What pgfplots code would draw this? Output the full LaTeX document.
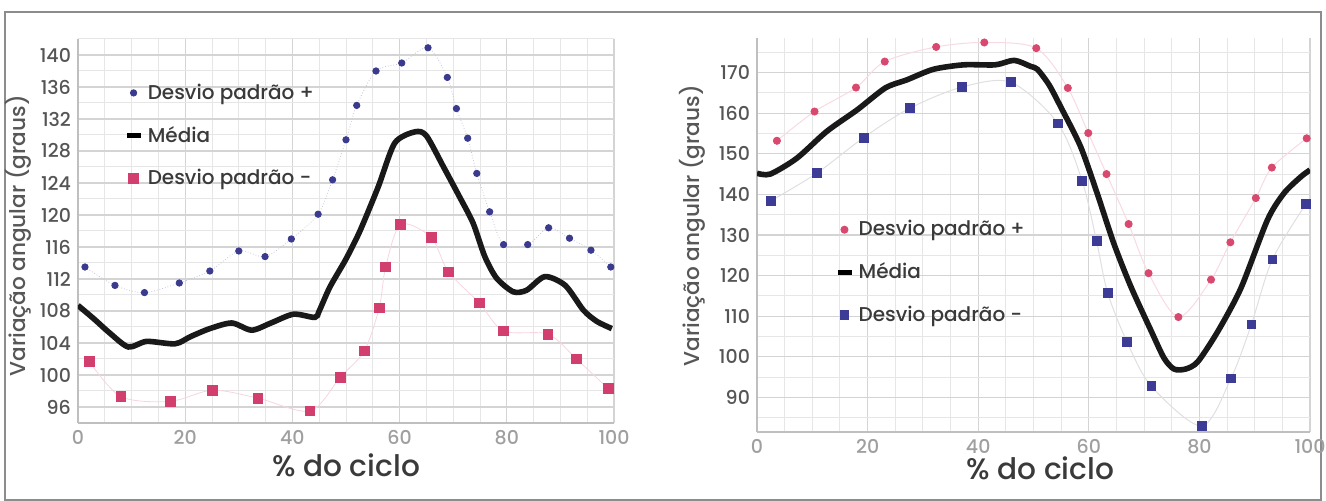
\documentclass[border=0pt]{standalone}
\usepackage{fontspec}
\setmainfont{Poppins}[UprightFont={* Medium}]
\usepackage{pgfplots}
\usepackage{pgfplotstable}
\pgfplotsset{compat=1.18}
\definecolor{dotblue}{HTML}{3A3A8E}
\definecolor{sqpink}{HTML}{D23F6E}
\definecolor{dotpink}{HTML}{D9486E}
\definecolor{sqblue}{HTML}{3C3C96}
\definecolor{txt}{HTML}{3A3A3A}
\definecolor{ticktxt}{HTML}{555555}
\definecolor{gridc}{HTML}{D4D4D4}
\definecolor{gridm}{HTML}{E6E6E6}

% Left panel data
\pgfplotstableread{
x y
1.3 113.5
6.9 111.2
12.4 110.3
18.9 111.5
24.6 113.0
30.0 115.5
34.9 114.8
39.8 117.0
44.8 120.1
47.5 124.4
50.0 129.4
52.0 133.7
55.6 138.0
60.4 139.0
65.3 140.9
68.9 137.2
70.6 133.3
72.7 129.6
74.4 125.2
76.8 120.4
79.4 116.3
83.9 116.3
87.8 118.4
91.7 117.1
95.7 115.6
99.4 113.5
}\Lplus
\pgfplotstableread{
x y
2.1 101.7
8.0 97.3
17.2 96.7
25.1 98.1
33.6 97.1
43.3 95.5
48.9 99.7
53.4 103.0
56.2 108.4
57.4 113.5
60.2 118.8
65.9 117.2
69.1 112.9
74.9 109.0
79.4 105.5
87.7 105.1
93.0 102.0
98.9 98.3
}\Lminus
\pgfplotstableread{
x y
0 108.7
3 107.0
6 105.2
9.4 103.5
12.8 104.2
18.1 103.9
21 104.8
24.6 105.8
28.7 106.5
32.4 105.6
36 106.5
40.2 107.6
44.2 107.2
45 108.0
47 111.0
50 114.5
52.6 118.0
56 123.5
59.1 129.0
62.9 130.4
65 129.9
68.2 126.0
71 122.5
73.7 119.0
75.9 114.8
78.1 112.1
81.2 110.4
83.7 110.6
87.1 112.3
90.9 111.2
94.3 108.1
96.8 106.7
99.6 105.8
}\Lmean

% Right panel data
\pgfplotstableread{
x y
3.6 153.2
10.4 160.4
17.9 166.3
23.1 172.7
32.4 176.3
41.1 177.4
50.5 176.0
56.2 166.2
59.9 155.1
63.2 145.0
67.2 132.7
70.8 120.6
76.2 109.8
82.1 119.0
85.6 128.2
90.2 139.1
93.1 146.6
99.4 153.8
}\Rplus
\pgfplotstableread{
x y
2.5 138.4
10.8 145.2
19.3 154.0
27.6 161.2
37.0 166.4
45.9 167.6
54.4 157.5
58.8 143.3
61.4 128.5
63.4 115.8
66.9 103.7
71.3 92.8
80.4 83.0
85.7 94.7
89.4 108.0
93.2 124.0
99.3 137.7
}\Rminus
\pgfplotstableread{
x y
0 145.2
2.4 145.0
7.2 148.9
12.6 155.5
18.1 160.8
23.2 166.2
27.1 168.2
31.9 170.8
37.4 171.9
43.1 171.9
46.5 173.0
49.5 171.5
50.7 170.8
52.8 167.0
54.9 161.6
58.5 151.8
61.5 140.3
64.5 128.0
67.6 117.3
71.2 106.6
73.6 99.7
75.4 97.0
77.5 97.0
79.7 98.8
83.3 106.2
87.5 116.9
92.3 133.7
95.3 140.3
98.4 144.4
100 146.0
}\Rmean

\pgfplotsset{
  mystyle/.style={
    scale only axis,
    xmin=0, xmax=100,
    xtick={0,20,...,100},
    minor xtick={0,5,...,100},
    grid=both,
    major grid style={gridc, line width=0.6pt},
    minor grid style={gridm, line width=0.5pt},
    axis line style={gray!50, line width=0.6pt},
    axis x line*=bottom, axis y line*=left,
    tick style={draw=none},
    /pgf/number format/assume math mode=true,
    ticklabel style={font=\fontsize{9.5}{11}\selectfont, text=ticktxt},
    xticklabel style={text=gray!75},
    xlabel={\% do ciclo},
    ylabel={Variação angular (graus)},
    xlabel style={font=\fontsize{14.8}{17}\selectfont, text=txt, anchor=center},
    ylabel style={font=\fontsize{10.8}{13}\selectfont, text=txt!85, anchor=center},
    legend cell align=left,
    legend style={draw=none, fill=none, font=\fontsize{10}{12}\selectfont, text=txt,
      row sep=8pt, anchor=north west, inner sep=0pt},
  },
  markleg/.style={legend image code/.code={\draw[##1] plot coordinates {(0.12cm,0cm)};}},
  lineleg/.style={legend image code/.code={\draw[black,line width=2.8pt] (0cm,0cm) -- (0.25cm,0cm);}},
}

\begin{document}
\begin{tikzpicture}
\path[use as bounding box] (0,0) rectangle (663pt,250.5pt);
\draw[gray!90, line width=0.8pt] (2.5pt,0.6pt) rectangle (660.5pt,244.5pt);

\begin{axis}[mystyle,
  at={(39pt,39pt)}, anchor=south west,
  width=268pt, height=192pt,
  ymin=94, ymax=142,
  ytick={96,100,...,140},
  minor ytick={94,98,...,142},
  xlabel style={at={(axis description cs:0.5,-0.109)}},
  ylabel style={at={(axis description cs:-0.112,0.487)}},
  legend style={at={(axis description cs:0.085,0.895)}},
]
\addplot[smooth, densely dotted, color=dotblue!30, line width=0.4pt, forget plot] table {\Lplus};
\addplot[smooth, color=sqpink!22, line width=0.4pt, forget plot] table {\Lminus};
\addplot[only marks, mark=*, mark size=1.6pt, color=dotblue, markleg] table {\Lplus};
\addlegendentry{Desvio padrão +}
\addplot[smooth, tension=0.45, black!90, line width=2.8pt, lineleg] table {\Lmean};
\addlegendentry{Média}
\addplot[only marks, mark=square*, mark size=2.4pt, color=sqpink, markleg] table {\Lminus};
\addlegendentry{Desvio padrão -}
\end{axis}

\begin{axis}[mystyle,
  at={(378.5pt,34.5pt)}, anchor=south west,
  width=276.5pt, height=197pt,
  ymin=81.5, ymax=178.5,
  ytick={90,100,...,170},
  minor ytick={85,95,...,175},
  xlabel style={at={(axis description cs:0.512,-0.091)}},
  ylabel style={at={(axis description cs:-0.1175,0.523)}},
  legend style={at={(axis description cs:0.14,0.548)}},
]
\addplot[smooth, color=dotpink!20, line width=0.5pt, forget plot] table {\Rplus};
\addplot[smooth, color=gray!25, line width=0.5pt, forget plot] table {\Rminus};
\addplot[only marks, mark=*, mark size=1.8pt, color=dotpink, markleg] table {\Rplus};
\addlegendentry{Desvio padrão +}
\addplot[smooth, tension=0.45, black!90, line width=2.8pt, lineleg] table {\Rmean};
\addlegendentry{Média}
\addplot[only marks, mark=square*, mark size=2.2pt, color=sqblue, markleg] table {\Rminus};
\addlegendentry{Desvio padrão -}
\end{axis}
\end{tikzpicture}
\end{document}
